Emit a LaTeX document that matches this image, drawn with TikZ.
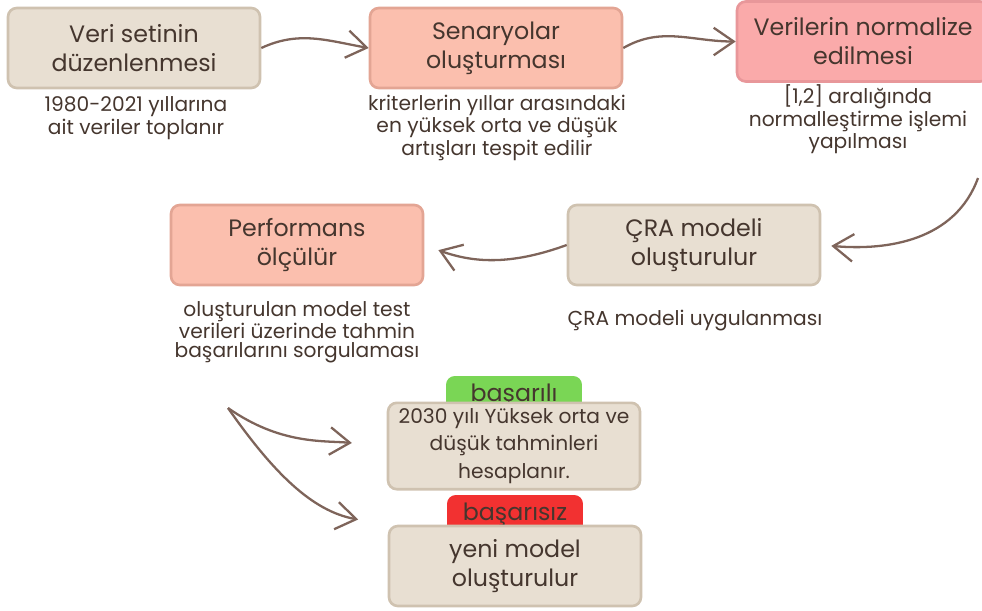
\documentclass[tikz,border=0pt]{standalone}
\usepackage{fontspec}
\setmainfont{Poppins}
\usepackage{xcolor}
\usepackage{tikz}
\usetikzlibrary{arrows.meta}
\definecolor{bej}{HTML}{E8DFD2}
\definecolor{bejkenar}{HTML}{CFC2B0}
\definecolor{somon}{HTML}{FBBFAE}
\definecolor{somonkenar}{HTML}{E3A594}
\definecolor{pembe}{HTML}{FAAAAA}
\definecolor{pembekenar}{HTML}{E8979A}
\definecolor{yesil}{HTML}{7AD655}
\definecolor{kirmizi}{HTML}{F23131}
\definecolor{yazi}{HTML}{45362E}
\definecolor{cizgi}{HTML}{7E645A}
\tikzset{>={Straight Barb[length=4mm,width=5.5mm]}}
\tikzstyle{kutu} = [rectangle, rounded corners=5pt, line width=1.5pt, minimum width=5.04cm, minimum height=1.6cm, align=center, text=yazi, font=\fontsize{13.5}{16.5}\selectfont]
\tikzstyle{aciklama} = [align=center, text=yazi, font=\fontsize{11.5}{10.5}\selectfont]
\tikzstyle{etiket} = [rectangle, rounded corners=5pt, minimum width=2.72cm, minimum height=0.8cm, text=yazi, font=\fontsize{13.5}{16.5}\selectfont]
\tikzstyle{ok} = [->, draw=cizgi, line width=1.3pt]

\begin{document}
\begin{tikzpicture}[x=0.02cm, y=0.02cm]
\clip (0,0) rectangle (982,-610);
\node [kutu, fill=bej, draw=bejkenar] (D) at (134,-48) {Veri setinin\\düzenlenmesi};
\node [kutu, fill=somon, draw=somonkenar] (S) at (496,-48) {Senaryolar\\oluşturması};
\node [kutu, fill=pembe, draw=pembekenar] (N) at (863,-41.5) {Verilerin normalize\\edilmesi};
\node [kutu, fill=bej, draw=bejkenar] (C) at (694,-245) {ÇRA modeli\\oluşturulur};
\node [kutu, fill=somon, draw=somonkenar] (P) at (297,-245) {Performans\\ölçülür};
\node [aciklama] (d) at (136,-118) {1980-2021 yıllarına\\ait veriler toplanır};
\node [aciklama] (s) at (497,-128) {kriterlerin yıllar arasındaki\\en yüksek orta ve düşük\\artışları tespit edilir};
\node [aciklama] (n) at (858,-119) {[1,2] aralığında\\normalleştirme işlemi\\yapılması};
\node [aciklama] (c) at (695,-321) {ÇRA modeli uygulanması};
\node [aciklama] (p) at (297,-332) {oluşturulan model test\\verileri üzerinde tahmin\\başarılarını sorgulaması};
% sonuc kutulari
\node [etiket, fill=yesil] (ok1) at (514,-396) {başarılı};
\node [etiket, fill=kirmizi] (ok2) at (515,-515) {başarısız};
\node [kutu, fill=bej, draw=bejkenar, font=\fontsize{11.5}{15.5}\selectfont] (H) at (514,-446) {2030 yılı Yüksek orta ve\\düşük tahminleri\\hesaplanır.};
\node [kutu, fill=bej, draw=bejkenar] (Y) at (515,-566) {yeni model\\oluşturulur};
\coordinate (n3) at (978,-178);
\coordinate (b0) at (228,-408);
\draw [ok] (D.east) to [out=25, in=170] (S.west);
\draw [ok] (S.east) to [out=30, in=180] (N.west);
\draw [ok, shorten >=2mm] (n3) to [out=-110, in=-5] (C.east);
\draw [ok, shorten >=3mm] (C.west) to [out=200, in=-20] (P.east);
\draw [ok, shorten >=7mm] (b0) to [out=-35, in=175] (H.west);
\draw [ok, shorten >=6mm] (b0) to [out=-55, in=170] (Y.north west);
\end{tikzpicture}
\end{document}
